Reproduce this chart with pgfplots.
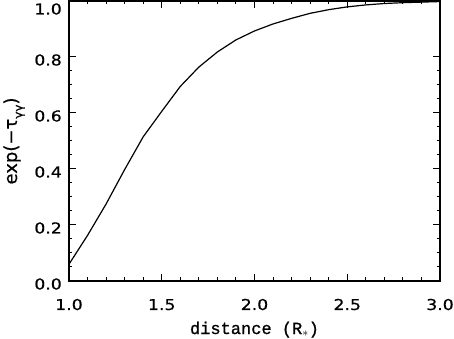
\documentclass[border=0pt]{standalone}
\usepackage{fontspec}
\usepackage{pgfplots}
\pgfplotsset{compat=1.18}
\setmainfont{DejaVu Sans}
\newfontfamily\tickfont[FakeStretch=1.15,FakeBold=0.6]{DejaVu Sans}
\newfontfamily\xlabfont[FakeBold=1]{Liberation Mono}
\newfontfamily\ylabfont[FakeBold=0.5]{DejaVu Sans}
\begin{document}
\begin{tikzpicture}
\begin{axis}[
  scale only axis,
  width=371pt, height=280pt,
  xmin=1.0, xmax=3.0, ymin=0.0, ymax=1.0,
  xtick={1.0,1.5,2.0,2.5,3.0},
  ytick={0.0,0.2,0.4,0.6,0.8},
  extra y ticks={1.0},
  extra y tick style={yticklabel style={yshift=-5pt}},
  minor x tick num=4,
  minor y tick num=3,
  tick align=inside,
  tick pos=both,
  major tick length=7pt,
  minor tick length=3.5pt,
  axis line style={line width=1.3pt},
  every tick/.style={black, line width=1pt},
  /pgf/number format/assume math mode=true,
  /pgf/number format/fixed,
  /pgf/number format/fixed zerofill,
  /pgf/number format/precision=1,
  tick label style={font=\tickfont\fontsize{15}{15}\selectfont},
  xticklabel style={anchor=base, inner sep=0pt, yshift=-29pt},
  yticklabel style={anchor=east, inner sep=0pt, xshift=-7pt, yshift=-3pt},
  xlabel={\xlabfont\fontsize{17}{17}\selectfont distance (R$_*$)},
  xlabel style={at={(axis description cs:0.5,-0.1893)}, anchor=base, inner sep=0pt},
  ylabel={\ylabfont\fontsize{18}{18}\selectfont exp(−τ\raisebox{-0.3em}{\fontsize{12}{12}\selectfont γγ})},
  ylabel style={at={(axis description cs:-0.1402,0.5)}, anchor=base, rotate=0, inner sep=0pt},
]
\addplot[black, line width=1.2pt] coordinates {
(1.0,0.060) (1.1,0.163) (1.2,0.275) (1.3,0.398) (1.4,0.515)
(1.5,0.606) (1.6,0.695) (1.7,0.764) (1.8,0.818) (1.9,0.861)
(2.0,0.893) (2.1,0.918) (2.2,0.938) (2.3,0.956) (2.4,0.969)
(2.5,0.979) (2.6,0.986) (2.7,0.991) (2.8,0.994) (2.9,0.996)
(3.0,0.998)
};
\end{axis}
\pgfresetboundingbox
\path ([xshift=-69pt,yshift=-58pt]current axis.south west) rectangle ([xshift=14pt,yshift=1pt]current axis.north east);
\end{tikzpicture}
\end{document}
